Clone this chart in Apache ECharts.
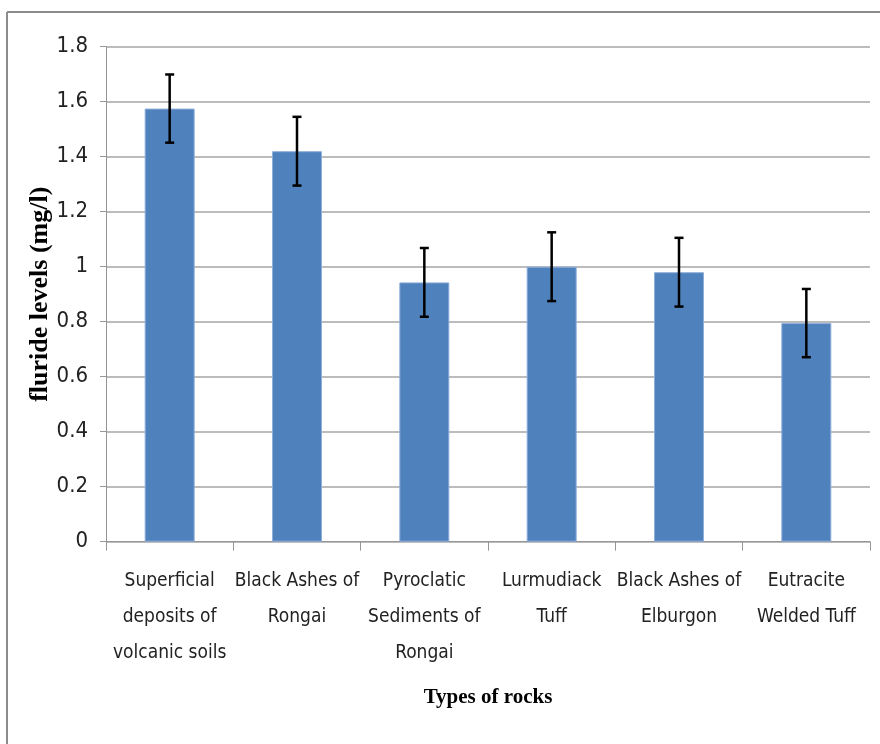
<!DOCTYPE html>
<html>
<head>
<meta charset="utf-8">
<script src="https://cdn.jsdelivr.net/npm/echarts@6/dist/echarts.min.js"></script>
<style>
html,body{margin:0;padding:0;background:#fff;}
#main{width:880px;height:744px;}
</style>
</head>
<body>
<div id="main"></div>
<script>
// data
var categories = ['Superficial\ndeposits of\nvolcanic soils', 'Black Ashes of\nRongai', 'Pyroclatic\nSediments of\nRongai', 'Lurmudiack\nTuff', 'Black Ashes of\nElburgon', 'Eutracite\nWelded Tuff'];
var fluoride = [1.575, 1.42, 0.943, 1.0, 0.98, 0.795];
var errors = [0.124, 0.125, 0.125, 0.125, 0.125, 0.124];
var yTicks = [0, 0.2, 0.4, 0.6, 0.8, 1, 1.2, 1.4, 1.6, 1.8];

var narrow = '"Liberation Sans Narrow", "DejaVu Sans Condensed", sans-serif';
var serif = '"Liberation Serif", "DejaVu Serif", serif';

var errData = fluoride.map(function (v, i) {
    return [i, v - errors[i], v + errors[i]];
});

var myChart = echarts.init(document.getElementById('main'));
var option = {
    animation: false,
    backgroundColor: '#fff',
    grid: {
        left: 106,
        right: 10,
        top: 46.7,
        bottom: 202.3
    },
    graphic: [{
        type: 'line',
        shape: {x1: 7, y1: 12, x2: 880, y2: 12},
        style: {stroke: '#8c8c8c', lineWidth: 2}
    }, {
        type: 'line',
        shape: {x1: 7, y1: 12, x2: 7, y2: 744},
        style: {stroke: '#8c8c8c', lineWidth: 2}
    }],
    xAxis: {
        type: 'category',
        data: categories,
        name: 'Types of rocks',
        nameLocation: 'middle',
        nameGap: 145,
        nameMoveOverlap: false,
        nameTextStyle: {
            fontFamily: serif,
            fontWeight: 'bold',
            fontSize: 21,
            color: '#000'
        },
        axisLine: {lineStyle: {color: '#969696', width: 1}},
        axisTick: {show: true, length: 9, lineStyle: {color: '#969696'}},
        axisLabel: {
            interval: 0,
            margin: 21,
            fontFamily: narrow,
            fontSize: 19,
            lineHeight: 36,
            color: '#222'
        }
    },
    yAxis: {
        type: 'value',
        min: 0,
        max: 1.8,
        interval: 0.2,
        name: 'fluride levels (mg/l)',
        nameLocation: 'middle',
        nameGap: 53,
        nameMoveOverlap: false,
        nameTextStyle: {
            fontFamily: serif,
            fontWeight: 'bold',
            fontSize: 26,
            color: '#000'
        },
        axisLine: {show: true, lineStyle: {color: '#969696', width: 1}},
        axisTick: {show: true, length: 6, lineStyle: {color: '#969696'}},
        axisLabel: {
            margin: 18,
            fontFamily: narrow,
            fontSize: 22,
            color: '#222',
            formatter: function (v) {
                var t = yTicks.filter(function (x) { return Math.abs(x - v) < 1e-6; });
                return t.length ? String(t[0]) : '';
            }
        },
        splitLine: {lineStyle: {color: '#a6a6a6', width: 1.5}}
    },
    series: [{
        type: 'bar',
        data: fluoride,
        barWidth: 50,
        itemStyle: {
            color: '#4f81bd',
            borderColor: '#8eaedb',
            borderWidth: 1
        }
    }, {
        type: 'custom',
        data: errData,
        z: 10,
        renderItem: function (params, api) {
            var lo = api.coord([api.value(0), api.value(1)]);
            var hi = api.coord([api.value(0), api.value(2)]);
            var hw = 4.5;
            var st = {stroke: '#000', lineWidth: 2.5};
            return {
                type: 'group',
                children: [{
                    type: 'line',
                    shape: {x1: lo[0], y1: lo[1], x2: hi[0], y2: hi[1]},
                    style: st
                }, {
                    type: 'line',
                    shape: {x1: hi[0] - hw, y1: hi[1], x2: hi[0] + hw, y2: hi[1]},
                    style: st
                }, {
                    type: 'line',
                    shape: {x1: lo[0] - hw, y1: lo[1], x2: lo[0] + hw, y2: lo[1]},
                    style: st
                }]
            };
        }
    }]
};
myChart.setOption(option);
</script>
</body>
</html>
